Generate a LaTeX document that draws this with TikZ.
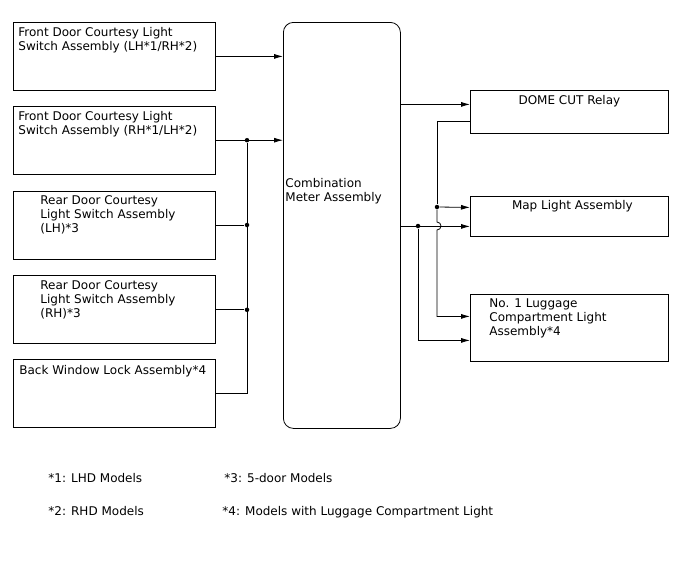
\documentclass[tikz,border=0pt]{standalone}
\usepackage{fontspec}
\setmainfont{DejaVu Sans}
\usetikzlibrary{positioning, arrows.meta}
\tikzset{>={Latex[length=9pt,width=5pt]},
box/.style={draw, anchor=north west, minimum width=202pt, minimum height=68pt, inner sep=0pt},
boxtext/.style={anchor=north west, align=left, inner sep=0pt, font=\fontsize{12}{14}\selectfont},
dot/.style={circle, fill, inner sep=0pt, minimum size=4.5pt},
note/.style={anchor=base west, inner sep=0pt, font=\fontsize{12}{14}\selectfont},
}

\begin{document}
\begin{tikzpicture}[x=1pt, y=-1pt, line width=0.8pt]
    \useasboundingbox[fill=white] (0,0) rectangle (688,560);
    % switches
    \node[box, label={[boxtext, xshift=5pt, yshift=-5pt]north west:Front Door Courtesy Light\\Switch Assembly (LH*1/RH*2)}] (fl) at (13,22) {};
    \node[box, below=15pt of fl, label={[boxtext, xshift=5pt, yshift=-5pt]north west:Front Door Courtesy Light\\Switch Assembly (RH*1/LH*2)}] (fr) {};
    \node[box, below=16pt of fr, label={[boxtext, xshift=27pt, yshift=-5pt]north west:Rear Door Courtesy\\Light Switch Assembly\\(LH)*3}] (rl) {};
    \node[box, below=16pt of rl, label={[boxtext, xshift=27pt, yshift=-5pt]north west:Rear Door Courtesy\\Light Switch Assembly\\(RH)*3}] (rr) {};
    \node[box, below=15pt of rr, label={[boxtext, xshift=6pt, yshift=-6pt]north west:Back Window Lock Assembly*4}] (bw) {};
    % meter
    \node[box, rounded corners=10pt, minimum width=117pt, minimum height=406pt, label={[boxtext, anchor=west, xshift=2pt, yshift=34pt]west:Combination\\Meter Assembly}] (cm) at (283,22) {};
    % outputs
    \node[box, minimum width=198pt, minimum height=43pt, label={[boxtext, anchor=north, yshift=-5pt]north:DOME CUT Relay}] (dome) at (470,90) {};
    \node[box, minimum width=198pt, minimum height=40pt, label={[boxtext, anchor=north, xshift=3pt, yshift=-4pt]north:Map Light Assembly}] (map) at (470,196) {};
    \node[box, minimum width=198pt, minimum height=67pt, label={[boxtext, xshift=19pt, yshift=-4pt]north west:No. 1 Luggage\\Compartment Light\\Assembly*4}] (lug) at (470,294) {};

    % junctions
    \coordinate (bus) at (247,0);
    \node[dot] (j1) at (bus |- fr.east) {};
    \node[dot] (j2) at (bus |- rl.east) {};
    \node[dot] (j3) at (bus |- rr.east) {};
    \node[dot] (j4) at (437,207) {};
    \node[dot] (j5) at (418,226) {};
    \coordinate (dIn) at ([yshift=7.5pt]dome.west);
    \coordinate (dOut) at ([yshift=-9.5pt]dome.west);
    \coordinate (mA) at ([yshift=9pt]map.west);
    \coordinate (mB) at ([yshift=-10pt]map.west);
    \coordinate (lA) at ([yshift=11.5pt]lug.west);
    \coordinate (lB) at ([yshift=-12.5pt]lug.west);

    % left side
    \draw[->] (fl.east) -- (fl.east -| cm.west);
    \draw[->] (fr.east) -- (fr.east -| cm.west);
    \draw (rl.east) -- (j2);
    \draw (rr.east) -- (j3);
    \draw (bw.east) -| (j1);

    % right side
    \draw[->] (dIn -| cm.east) -- (dIn);
    \draw (dOut) -| (j4);
    \draw[->] (j4) -- (mA);
    \draw[->] (j4) -- ++(0,15) arc[start angle=90, end angle=-90, radius=4pt] |- (lA);
    \draw[->] (mB -| cm.east) -- (mB);
    \draw[->] (j5) |- (lB);

    % notes
    \node[note] (n1) at (48,482) {*1: LHD Models};
    \node[note] (n2) at (48,515) {*2: RHD Models};
    \node[note] (n3) at (224,482) {*3: 5-door Models};
    \node[note] (n4) at (222,515) {*4: Models with Luggage Compartment Light};
\end{tikzpicture}
\end{document}
